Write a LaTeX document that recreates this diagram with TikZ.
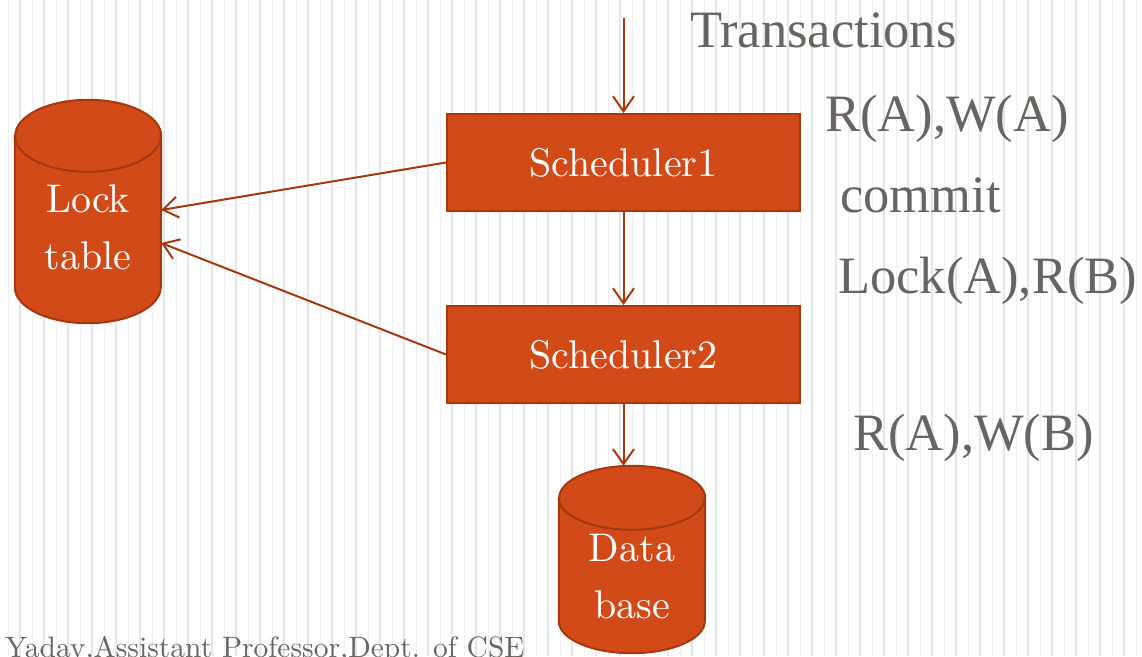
\documentclass[tikz,border=0pt]{standalone}
\usepackage{fontspec}
\usetikzlibrary{arrows.meta}
\newfontfamily\timesfont{Liberation Serif}
\newfontfamily\gfont{lmroman10-regular.otf}
\definecolor{schedfill}{RGB}{210,74,24}
\definecolor{schedline}{RGB}{166,56,16}
\definecolor{labelgray}{RGB}{104,100,98}
\definecolor{stripegray}{RGB}{230,230,230}

\begin{document}
\begin{tikzpicture}[x=1pt,y=-1pt,
	sched/.style={rectangle,draw=schedline,fill=schedfill,line width=2pt,minimum width=353pt,minimum height=97pt,inner sep=0pt,text=white,font=\gfont\fontsize{40}{48}\selectfont},
	drumbox/.style={rectangle,minimum width=146pt,inner sep=0pt},
	drum/.style={draw=schedline,fill=schedfill,line width=2pt},
	storetxt/.style={text=white,align=center,inner sep=0pt,font=\gfont\fontsize{40}{57}\selectfont},
	optxt/.style={anchor=base west,text=labelgray,inner sep=0pt,font=\timesfont\fontsize{52.5}{60}\selectfont},
	flow/.style={draw=schedline,line width=2pt,-{Straight Barb[length=15pt,width=21pt,line width=2pt]}}]
	\useasboundingbox (0,0) rectangle (1142,656);
	\fill[white] (0,0) rectangle (1142,656);
	\foreach \sx in {8,32,...,1136}
		\draw[stripegray!60,line width=1pt] (\sx,0) -- (\sx,656);
	\foreach \sx in {20,44,...,1136}
		\draw[stripegray,line width=2pt] (\sx,0) -- (\sx,656);
	
	\node[sched] (sched1) at (623.5,162.5) {Scheduler1};
	\node[sched] (sched2) at (623.5,354.5) {Scheduler2};
	\node[drumbox,minimum height=223pt] (lock) at (88,211.5) {};
	\node[drumbox,minimum height=187pt] (db) at (632,559.5) {};
	\foreach \nm/\ry in {lock/36,db/32}{
		\filldraw[drum] ([yshift=-\ry pt]\nm.north west) -- ([yshift=\ry pt]\nm.south west)
			arc[start angle=180,end angle=360,x radius=73pt,y radius=\ry pt]
			-- ([yshift=-\ry pt]\nm.north east)
			arc[start angle=0,end angle=180,x radius=73pt,y radius=\ry pt] -- cycle;
		\draw[drum,fill=none] ([yshift=-\ry pt]\nm.north west)
			arc[start angle=180,end angle=360,x radius=73pt,y radius=\ry pt];
	}
	\node[storetxt] (locktxt) at (88,227.5) {Lock\\table};
	\node[storetxt] (dbtxt) at (632,577) {Data\\base};
	
	\node[optxt] (trans) at (690,47) {Transactions};
	\node[optxt] (ops1) at (825,131) {R(A),W(A)};
	\node[optxt] (ops2) at (840,212) {commit};
	\node[optxt] (ops3) at (838,293) {Lock(A),R(B)};
	\node[optxt] (ops4) at (853,450) {R(A),W(B)};
	\node[anchor=base west,inner sep=0pt,text=labelgray,font=\gfont\fontsize{29.5}{36}\selectfont] (credit) at (5,657) {Yadav,Assistant Professor,Dept. of CSE};
	
	\coordinate (tin) at (623.5,18);
	\draw[flow] (tin) -- (sched1.north);
	\draw[flow] (sched1.south) -- (sched2.north);
	\draw[flow] (sched2.south) -- (sched2.south |- db.north);
	\draw[flow] (sched1.west) -- ([yshift=1.5pt]lock.east);
	\draw[flow] (sched2.west) -- ([yshift=-31.5pt]lock.east);
\end{tikzpicture}
\end{document}
